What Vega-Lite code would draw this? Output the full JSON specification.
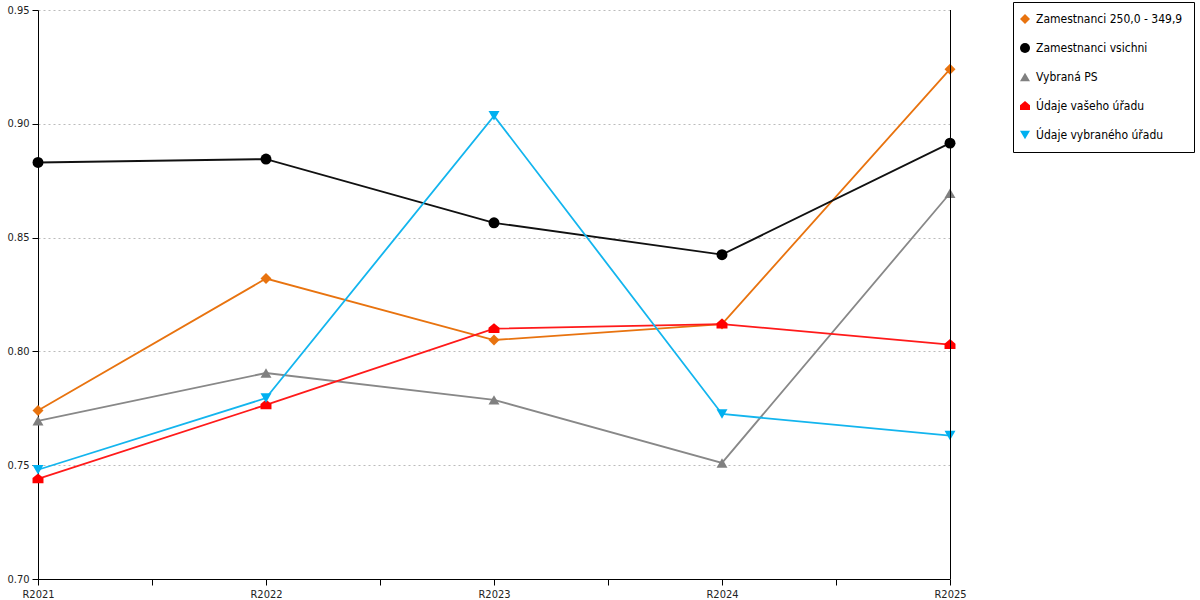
{
  "$schema": "https://vega.github.io/schema/vega-lite/v6.json",
  "width": 912,
  "height": 569,
  "autosize": {"type": "none"},
  "padding": {"left": 38, "top": 10, "right": 250, "bottom": 21},
  "config": {
    "view": {"stroke": null},
    "font": "DejaVu Sans Condensed",
    "axis": {
      "domainColor": "black",
      "tickColor": "black",
      "labelColor": "#222",
      "labelFontSize": 11,
      "labelFont": "DejaVu Sans Condensed",
      "title": null
    },
    "legend": {"labelFont": "DejaVu Sans Condensed"}
  },
  "datasets": {
    "hodnoty": [
      {"rok": 2021, "serie": "Zamestnanci 250,0 - 349,9", "hodnota": 0.774},
      {"rok": 2022, "serie": "Zamestnanci 250,0 - 349,9", "hodnota": 0.832},
      {"rok": 2023, "serie": "Zamestnanci 250,0 - 349,9", "hodnota": 0.805},
      {"rok": 2024, "serie": "Zamestnanci 250,0 - 349,9", "hodnota": 0.812},
      {"rok": 2025, "serie": "Zamestnanci 250,0 - 349,9", "hodnota": 0.924},
      {"rok": 2021, "serie": "Zamestnanci vsichni", "hodnota": 0.883},
      {"rok": 2022, "serie": "Zamestnanci vsichni", "hodnota": 0.8845},
      {"rok": 2023, "serie": "Zamestnanci vsichni", "hodnota": 0.8565},
      {"rok": 2024, "serie": "Zamestnanci vsichni", "hodnota": 0.8425},
      {"rok": 2025, "serie": "Zamestnanci vsichni", "hodnota": 0.8915},
      {"rok": 2021, "serie": "Vybraná PS", "hodnota": 0.7695},
      {"rok": 2022, "serie": "Vybraná PS", "hodnota": 0.7905},
      {"rok": 2023, "serie": "Vybraná PS", "hodnota": 0.7787},
      {"rok": 2024, "serie": "Vybraná PS", "hodnota": 0.751},
      {"rok": 2025, "serie": "Vybraná PS", "hodnota": 0.8695},
      {"rok": 2021, "serie": "Údaje vašeho úřadu", "hodnota": 0.744},
      {"rok": 2022, "serie": "Údaje vašeho úřadu", "hodnota": 0.7765},
      {"rok": 2023, "serie": "Údaje vašeho úřadu", "hodnota": 0.81},
      {"rok": 2024, "serie": "Údaje vašeho úřadu", "hodnota": 0.812},
      {"rok": 2025, "serie": "Údaje vašeho úřadu", "hodnota": 0.803},
      {"rok": 2021, "serie": "Údaje vybraného úřadu", "hodnota": 0.748},
      {"rok": 2022, "serie": "Údaje vybraného úřadu", "hodnota": 0.7795},
      {"rok": 2023, "serie": "Údaje vybraného úřadu", "hodnota": 0.9035},
      {"rok": 2024, "serie": "Údaje vybraného úřadu", "hodnota": 0.7725},
      {"rok": 2025, "serie": "Údaje vybraného úřadu", "hodnota": 0.763}
    ],
    "okraj": [{"rok": 2025}]
  },
  "layer": [
    {
      "data": {"name": "hodnoty"},
      "mark": {"type": "line", "strokeWidth": 1.8},
      "encoding": {
        "x": {
          "field": "rok",
          "type": "quantitative",
          "scale": {"domain": [2021, 2025], "nice": false, "zero": false},
          "axis": {
            "values": [2021, 2021.5, 2022, 2022.5, 2023, 2023.5, 2024, 2024.5, 2025],
            "labelExpr": "datum.value % 1 == 0 ? 'R' + datum.value : ''",
            "grid": false,
            "tickSize": 6,
            "labelFlush": false,
            "labelPadding": 3
          }
        },
        "y": {
          "field": "hodnota",
          "type": "quantitative",
          "scale": {"domain": [0.7, 0.95], "nice": false, "zero": false},
          "axis": {
            "values": [0.7, 0.75, 0.8, 0.85, 0.9, 0.95],
            "format": ".2f",
            "grid": true,
            "gridDash": [2, 3],
            "gridColor": "#bbbbbb",
            "tickSize": 6,
            "labelPadding": 3
          }
        },
        "stroke": {
          "field": "serie",
          "type": "nominal",
          "scale": {
            "domain": ["Zamestnanci 250,0 - 349,9", "Zamestnanci vsichni", "Vybraná PS", "Údaje vašeho úřadu", "Údaje vybraného úřadu"],
            "range": ["#E8730F", "#111111", "#888888", "#FF1A1A", "#13B5EE"]
          },
          "legend": null
        }
      }
    },
    {
      "data": {"name": "hodnoty"},
      "mark": {"type": "point", "filled": true, "opacity": 1, "size": 120},
      "encoding": {
        "x": {"field": "rok", "type": "quantitative"},
        "y": {"field": "hodnota", "type": "quantitative"},
        "color": {
          "field": "serie",
          "type": "nominal",
          "scale": {
            "domain": ["Zamestnanci 250,0 - 349,9", "Zamestnanci vsichni", "Vybraná PS", "Údaje vašeho úřadu", "Údaje vybraného úřadu"],
            "range": ["#E8730F", "#000000", "#808080", "#FF0000", "#00B0F0"]
          },
          "legend": {
            "title": null,
            "orient": "none",
            "legendX": 975,
            "legendY": -8,
            "strokeColor": "black",
            "padding": 11,
            "symbolOffset": -5,
            "rowPadding": 17,
            "symbolSize": 100,
            "labelFontSize": 12,
            "labelColor": "black",
            "labelOffset": 5,
            "labelLimit": 300
          }
        },
        "shape": {
          "field": "serie",
          "type": "nominal",
          "scale": {
            "domain": ["Zamestnanci 250,0 - 349,9", "Zamestnanci vsichni", "Vybraná PS", "Údaje vašeho úřadu", "Údaje vybraného úřadu"],
            "range": ["diamond", "circle", "triangle-up", "M0,-1L1,-0.15L1,0.8L-1,0.8L-1,-0.15Z", "triangle-down"]
          },
          "legend": {
            "title": null,
            "orient": "none",
            "legendX": 975,
            "legendY": -8
          }
        }
      }
    },
    {
      "data": {"name": "okraj"},
      "mark": {"type": "rule", "color": "black", "strokeWidth": 1, "xOffset": 0.5},
      "encoding": {
        "x": {"field": "rok", "type": "quantitative"}
      }
    }
  ],
  "resolve": {"scale": {"stroke": "independent"}}
}
